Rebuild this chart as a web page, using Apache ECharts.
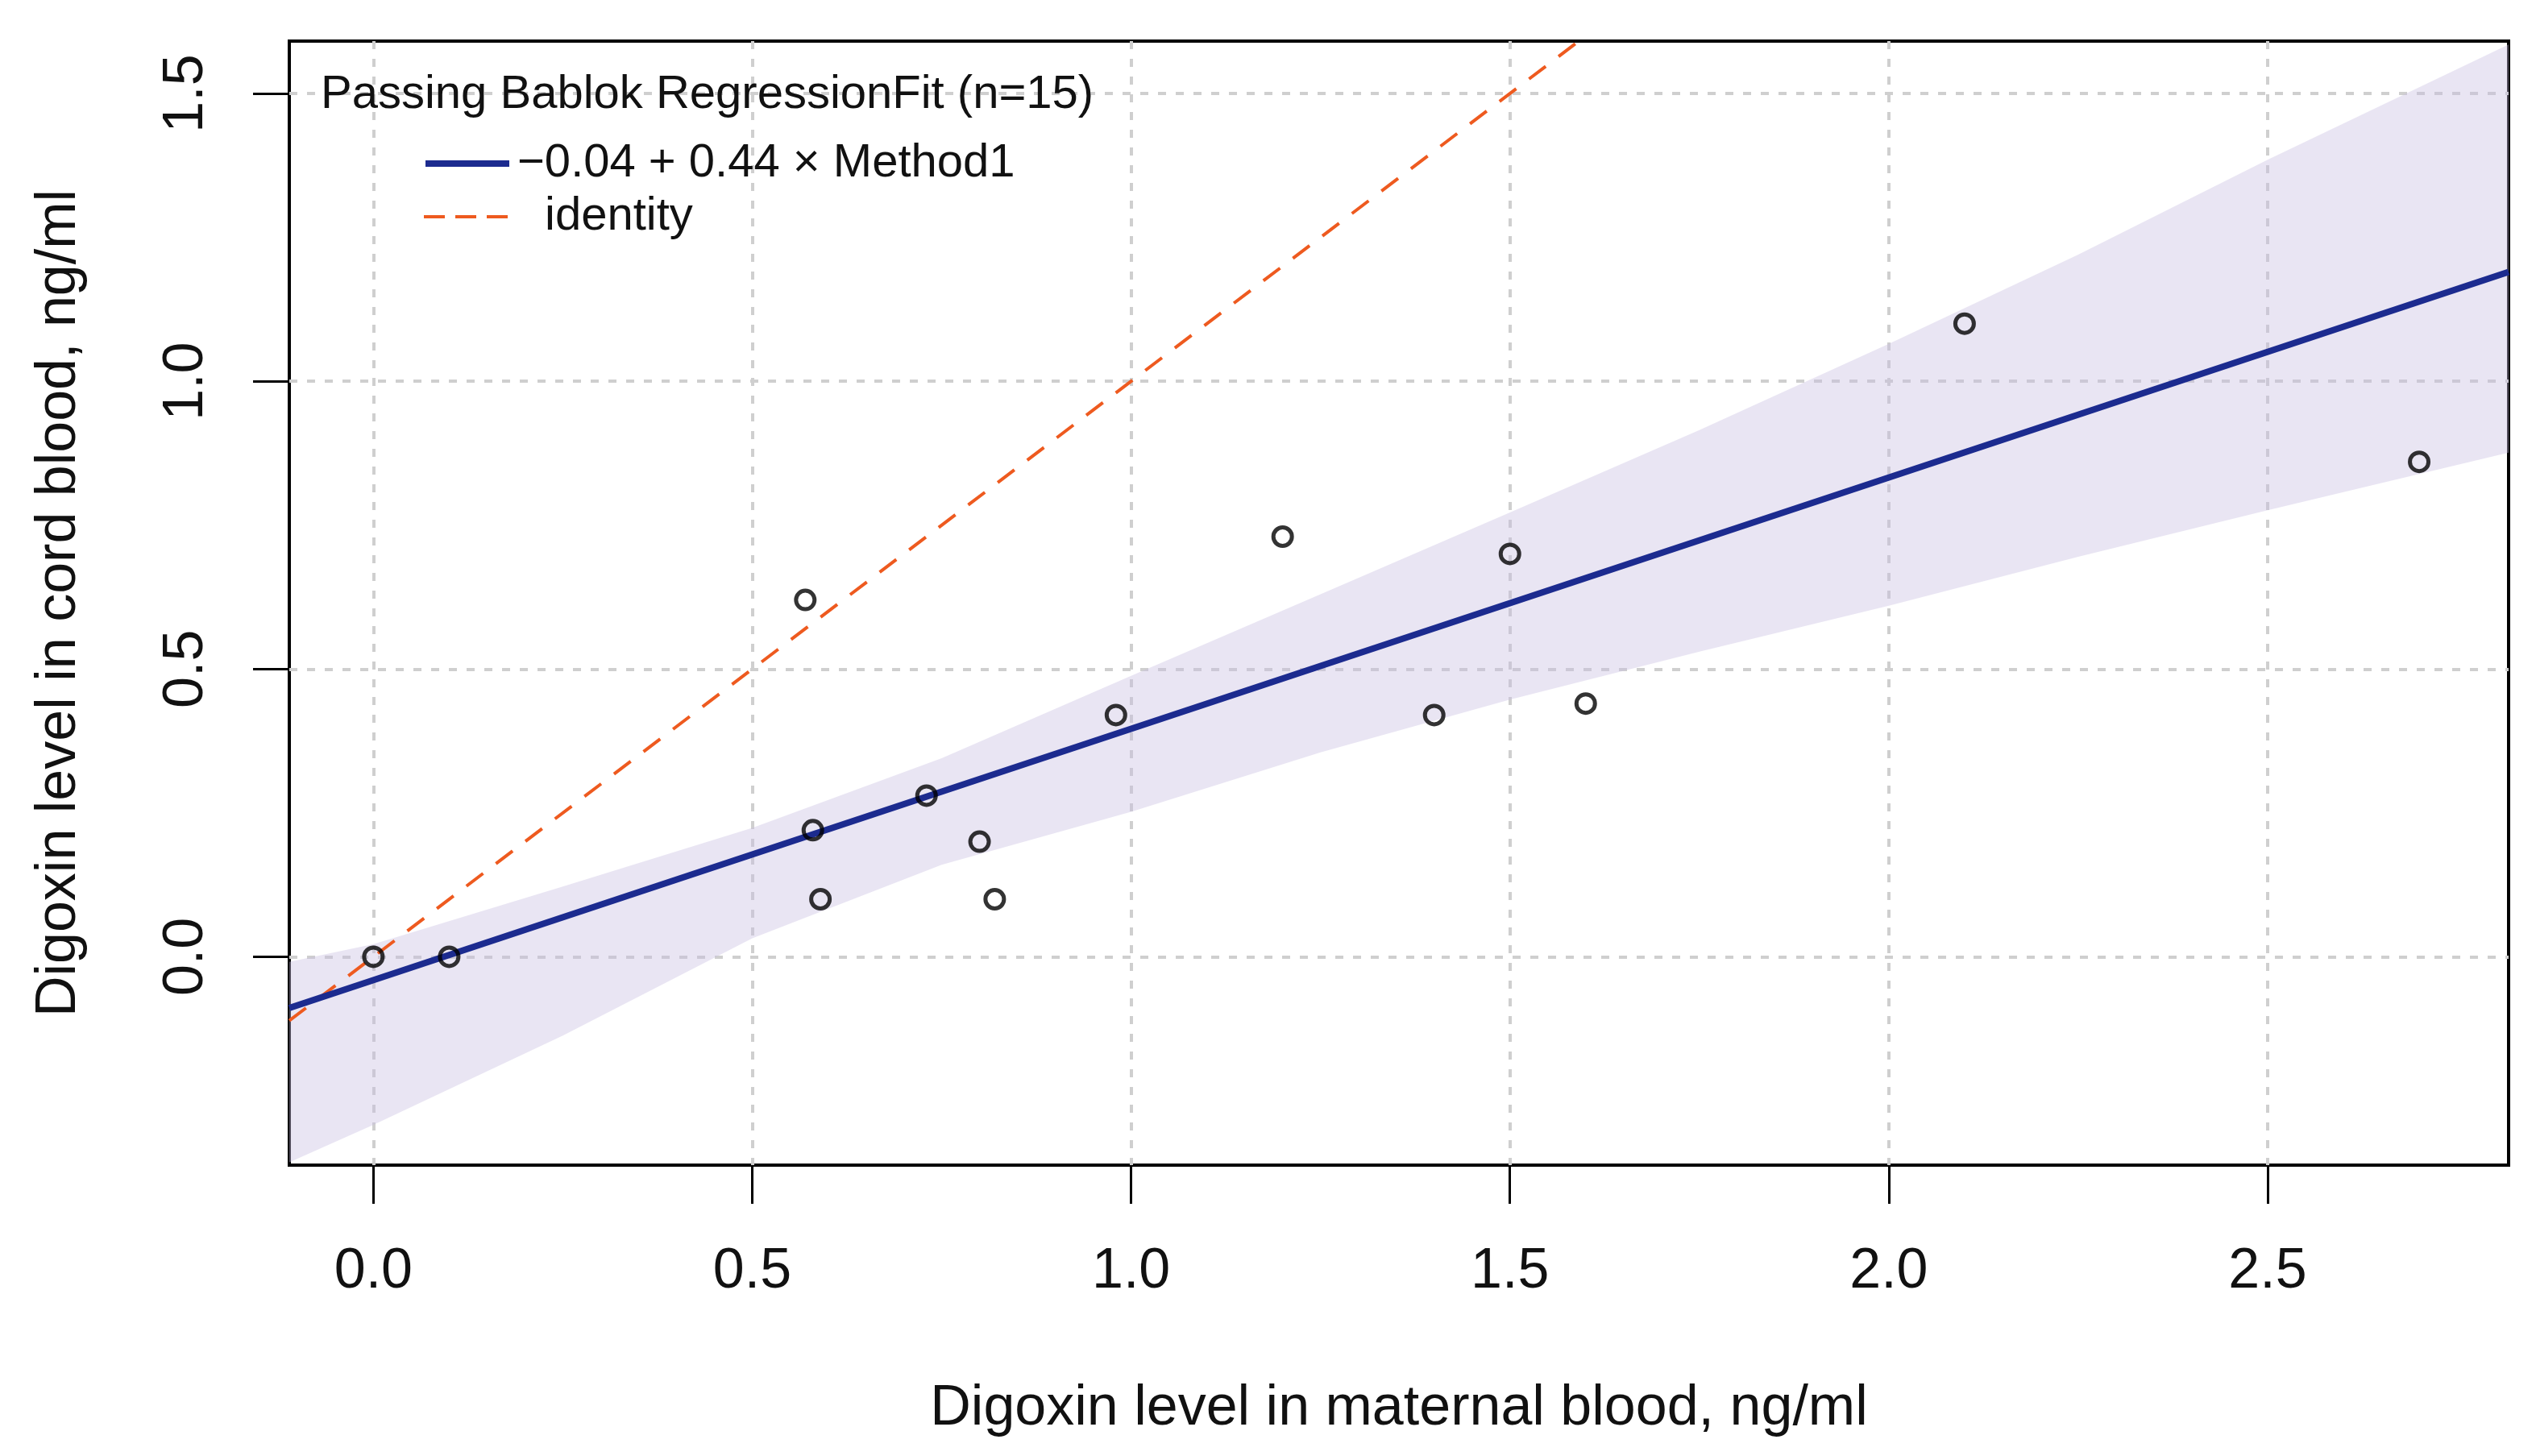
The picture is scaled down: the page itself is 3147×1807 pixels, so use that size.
<!DOCTYPE html>
<html><head><meta charset="utf-8">
<script src="https://cdn.jsdelivr.net/npm/echarts@6/dist/echarts.min.js"></script>
<style>html,body{margin:0;padding:0;background:#fff}#c{width:3147px;height:1807px}</style>
</head><body><div id="c"></div>
<script>
// ---- data ----
const maternal = [0, 0.10, 0.57, 0.58, 0.59, 0.73, 0.80, 0.82, 0.98, 1.20, 1.40, 1.50, 1.60, 2.10, 2.70];
const cord     = [0, 0.00, 0.62, 0.22, 0.10, 0.28, 0.20, 0.10, 0.42, 0.73, 0.42, 0.70, 0.44, 1.10, 0.86];

const fitX = [-0.111, 2.818];
const fitY = [-0.089, 1.190];

const identityX = [-0.111, 1.70];
const identityY = [-0.111, 1.70];

const bandX     = [-0.111, 0, 0.25, 0.5, 0.75, 1.0, 1.25, 1.5, 1.75, 2.0, 2.25, 2.5, 2.818];
const bandUpper = [-0.009, 0.022, 0.122, 0.224, 0.345, 0.488, 0.630, 0.772, 0.915, 1.065, 1.220, 1.385, 1.585];
const bandLower = [-0.357, -0.292, -0.137, 0.032, 0.160, 0.252, 0.355, 0.447, 0.530, 0.610, 0.695, 0.776, 0.876];

const xTicks = [0, 0.5, 1.0, 1.5, 2.0, 2.5];
const yTicks = [0, 0.5, 1.0, 1.5];

const legendTitle = 'Passing Bablok RegressionFit (n=15)';
const fitLabel = '\u22120.04 + 0.44 \u00D7 Method1';
const identityLabel = 'identity';
const xTitle = 'Digoxin level in maternal blood, ng/ml';
const yTitle = 'Digoxin level in cord blood, ng/ml';

// ---- chart ----
const FONT = '"Liberation Sans", Arial, sans-serif';
const FIT_COLOR = '#1C2B8F';
const ID_COLOR = '#EE5A1F';
const chart = echarts.init(document.getElementById('c'), null, {renderer: 'canvas'});

const gridLine = {show: true, lineStyle: {color: '#cfcfcf', width: 4, type: [10, 12]}};

chart.setOption({
  animation: false,
  backgroundColor: '#ffffff',
  textStyle: {fontFamily: FONT},
  grid: {left: 359, right: 34, top: 51, bottom: 361, show: true,
         borderColor: '#000', borderWidth: 4, backgroundColor: 'transparent'},
  title: {text: legendTitle, left: 393, top: 84, padding: 5,
          textStyle: {fontSize: 58, fontWeight: 'normal', color: '#111', fontFamily: FONT}},
  legend: [
    {data: [fitLabel], orient: 'vertical', left: 524, top: 174, padding: 0,
     itemWidth: 104, itemHeight: 20, selectedMode: false,
     itemStyle: {opacity: 0},
     lineStyle: {color: FIT_COLOR, width: 8, type: 'solid'},
     textStyle: {fontSize: 58, color: '#111', fontFamily: FONT, padding: [0, 0, 0, 5]}},
    {data: [identityLabel], orient: 'vertical', left: 524, top: 240, padding: 0,
     itemWidth: 104, itemHeight: 20, selectedMode: false,
     itemStyle: {opacity: 0},
     lineStyle: {color: ID_COLOR, width: 4, type: [26, 13]},
     textStyle: {fontSize: 58, color: '#111', fontFamily: FONT, padding: [0, 0, 0, 41]}}
  ],
  xAxis: {
    type: 'value', min: -0.111, max: 2.818,
    axisLine: {show: false, onZero: false},
    axisTick: {show: true, inside: false, length: 48, customValues: xTicks,
               lineStyle: {color: '#000', width: 3}},
    axisLabel: {customValues: xTicks, formatter: v => v.toFixed(1), fontSize: 70,
                color: '#111', margin: 98, fontFamily: FONT},
    splitLine: gridLine,
    name: xTitle, nameLocation: 'middle', nameGap: 268,
    nameTextStyle: {fontSize: 70, color: '#111', fontFamily: FONT}
  },
  yAxis: {
    type: 'value', min: -0.362, max: 1.591,
    axisLine: {show: false, onZero: false},
    axisTick: {show: true, inside: false, length: 45, customValues: yTicks,
               lineStyle: {color: '#000', width: 3}},
    axisLabel: {customValues: yTicks, formatter: v => v.toFixed(1), rotate: 90, fontSize: 70,
                color: '#111', margin: 92, fontFamily: FONT},
    splitLine: gridLine,
    name: yTitle, nameLocation: 'middle', nameGap: 250, nameRotate: 90,
    nameTextStyle: {fontSize: 70, color: '#111', fontFamily: FONT}
  },
  series: [
    {
      type: 'custom', name: 'CI band', silent: true, z: 1,
      data: [[bandX[0], bandLower[0]]],
      renderItem: function (params, api) {
        const pts = [];
        for (let i = 0; i < bandX.length; i++) pts.push(api.coord([bandX[i], bandUpper[i]]));
        for (let i = bandX.length - 1; i >= 0; i--) pts.push(api.coord([bandX[i], bandLower[i]]));
        return {type: 'polygon', shape: {points: pts},
                style: {fill: 'rgba(200,190,226,0.40)', stroke: null}};
      }
    },
    {
      type: 'line', name: identityLabel, symbol: 'none', z: 3, clip: true,
      data: identityX.map((x, i) => [x, identityY[i]]),
      lineStyle: {color: ID_COLOR, width: 4, type: [26, 20]},
      itemStyle: {color: ID_COLOR}
    },
    {
      type: 'line', name: fitLabel, symbol: 'none', z: 4, clip: true,
      data: fitX.map((x, i) => [x, fitY[i]]),
      lineStyle: {color: FIT_COLOR, width: 8},
      itemStyle: {color: FIT_COLOR}
    },
    {
      type: 'scatter', name: 'data', z: 5, symbol: 'circle', symbolSize: 23,
      data: maternal.map((x, i) => [x, cord[i]]),
      itemStyle: {color: 'rgba(0,0,0,0)', borderColor: '#000', borderWidth: 5}
    }
  ]
});
</script>
</body></html>
